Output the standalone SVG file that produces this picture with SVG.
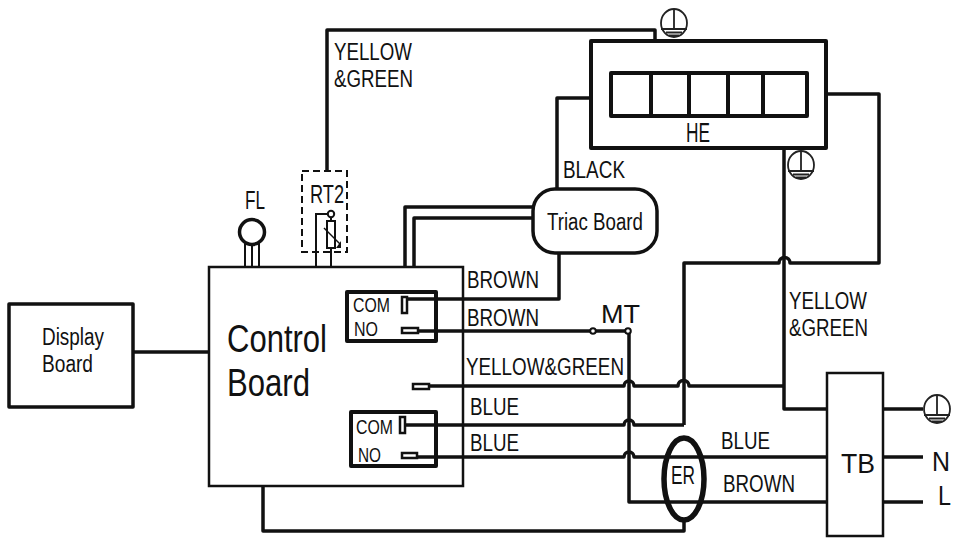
<svg xmlns="http://www.w3.org/2000/svg" width="957" height="544" viewBox="0 0 957 544">
<style>
text{font-family:"Liberation Sans",Arial,sans-serif;fill:#111;font-size:23.500px}
.b{fill:#fff;stroke:#111;stroke-width:3.5;stroke-linejoin:round}
.n{fill:none;stroke:#111;stroke-width:4;stroke-linejoin:round}
.w{fill:none;stroke:#111;stroke-width:3.500;stroke-linejoin:round}
.t{fill:none;stroke:#111;stroke-width:2}
.p{fill:#fff;stroke:#111;stroke-width:2.5}
</style>
<defs>
<g id="gnd" fill="none" stroke="#222" stroke-width="1.8">
<ellipse cx="0" cy="0" rx="13" ry="14"/>
<path d="M0-14V6M-13 6H13M-8 9.500H8M-5 12.500H5"/>
</g>
</defs>
<rect width="957" height="544" fill="#fff"/>
<g id="connectors">
<path class="w" d="M327 171V30H655V41"/>
<path class="w" d="M557 190V98H591"/>
<path class="w" d="M827 94H879V263H790a5 5 0 0 0-11 0H684V425"/>
<path class="w" d="M784 149V409H827"/>
<path class="w" d="M133 352H209"/>
<path class="w" d="M405 267V207H533"/>
<path class="w" d="M414 267V218H533"/>
<path class="w" d="M407 299H559V253"/>
<path class="w" d="M418 331H628"/>
<path class="w" d="M428 386H624a5 5 0 0 1 10 0H678a5 5 0 0 1 11 0H784"/>
<path class="w" d="M405 425H624a5 5 0 0 1 10 0H684"/>
<path class="w" d="M417 457H624a5 5 0 0 1 10 0H827"/>
<path class="w" d="M629 333V502H827"/>
<path class="w" d="M263 486V531H684V521"/>
<path class="w" d="M883 409H923M883 457H923M883 502H923"/>
<path class="t" d="M245 243V267M252 243V267M259 243V267"/>
</g>
<g id="display-board"><rect class="b" x="9" y="304" width="124" height="103"/>
<text x="42" y="345" textLength="62" lengthAdjust="spacingAndGlyphs" style="font-size:23px">Display</text><text x="42" y="372" textLength="51" lengthAdjust="spacingAndGlyphs" style="font-size:23px">Board</text></g>
<g id="fl"><circle cx="252" cy="232" r="12.500" fill="#fff" stroke="#111" stroke-width="3.500"/><text x="245" y="209" textLength="20" lengthAdjust="spacingAndGlyphs" style="font-size:25px">FL</text></g>
<g id="control-board"><rect x="209" y="267" width="254" height="219" fill="none" stroke="#111" stroke-width="2.500"/>
<text x="227" y="352" textLength="100" lengthAdjust="spacingAndGlyphs" style="font-size:38px">Control</text><text x="227" y="396" textLength="83" lengthAdjust="spacingAndGlyphs" style="font-size:38px">Board</text></g>
<g id="rt2"><rect x="302" y="171" width="45" height="81" fill="none" stroke="#111" stroke-width="2" stroke-dasharray="7 4"/>
<text x="310" y="203" textLength="34" lengthAdjust="spacingAndGlyphs" style="font-size:26px">RT2</text>
<path class="t" d="M316 267V214H328M331 217V267"/>
<circle cx="331" cy="214" r="3.200" fill="none" stroke="#111" stroke-width="2"/>
<rect x="327" y="221" width="8" height="27" fill="#fff" stroke="#111" stroke-width="2"/>
<path d="M324 228L340 244" fill="none" stroke="#111" stroke-width="1.500"/><path d="M336 248H341V241Z" fill="#111"/></g>
<g id="relay-1"><rect class="n" x="347" y="292" width="89" height="49"/>
<text x="353" y="312" textLength="37" lengthAdjust="spacingAndGlyphs" style="font-size:21px">COM</text><text x="354" y="336" textLength="24" lengthAdjust="spacingAndGlyphs" style="font-size:21px">NO</text>
<rect class="p" x="402" y="297" width="5" height="16"/><rect class="p" x="402" y="328" width="16" height="5"/></g>
<g id="relay-2"><rect class="n" x="351" y="412" width="85" height="54"/>
<text x="356" y="434" textLength="37" lengthAdjust="spacingAndGlyphs" style="font-size:21px">COM</text><text x="358" y="462" textLength="23" lengthAdjust="spacingAndGlyphs" style="font-size:21px">NO</text>
<rect class="p" x="400" y="417" width="5" height="16"/><rect class="p" x="402" y="453" width="15" height="5"/></g>
<rect id="yg-pin" class="p" x="413" y="384" width="16" height="5"/>
<g id="he"><rect class="n" x="591" y="41" width="235" height="107"/>
<rect class="n" x="611" y="73" width="196" height="43"/>
<path class="n" d="M651 73V116M689 73V116M728 73V116M763 73V116"/>
<text x="686" y="142" textLength="24" lengthAdjust="spacingAndGlyphs" style="font-size:27px">HE</text></g>
<g id="triac-board"><rect class="b" x="533" y="189" width="124" height="64" rx="22" stroke-width="3"/><text x="547" y="230" textLength="96" lengthAdjust="spacingAndGlyphs">Triac Board</text></g>
<g id="er"><ellipse cx="684" cy="479" rx="20" ry="41" fill="none" stroke="#111" stroke-width="5.500"/><text x="671" y="484" textLength="24" lengthAdjust="spacingAndGlyphs" style="font-size:25px">ER</text></g>
<g id="tb"><rect x="827" y="373" width="56" height="163" fill="#fff" stroke="#111" stroke-width="2.500"/><text x="841" y="473" textLength="34" lengthAdjust="spacingAndGlyphs" style="font-size:28px">TB</text></g>
<g id="ground-1"><use href="#gnd" x="674" y="23"/></g>
<g id="ground-2"><use href="#gnd" x="801" y="165"/></g>
<g id="ground-3"><use href="#gnd" x="937" y="409"/></g>
<g id="mt"><circle cx="593" cy="331" r="2.800" fill="#fff" stroke="#111" stroke-width="2"/><circle cx="628" cy="331" r="2.800" fill="#fff" stroke="#111" stroke-width="2"/><text x="601" y="323" textLength="39" lengthAdjust="spacingAndGlyphs" style="font-size:25px">MT</text></g>
<g id="labels">
<text x="334" y="60" textLength="78" lengthAdjust="spacingAndGlyphs">YELLOW</text><text x="334" y="87" textLength="79" lengthAdjust="spacingAndGlyphs">&amp;GREEN</text>
<text x="563" y="178" textLength="62" lengthAdjust="spacingAndGlyphs">BLACK</text>
<text x="467" y="288" textLength="72" lengthAdjust="spacingAndGlyphs">BROWN</text><text x="467" y="326" textLength="72" lengthAdjust="spacingAndGlyphs">BROWN</text>
<text x="466" y="375" textLength="158" lengthAdjust="spacingAndGlyphs">YELLOW&amp;GREEN</text>
<text x="470" y="415" textLength="49" lengthAdjust="spacingAndGlyphs">BLUE</text><text x="470" y="451" textLength="49" lengthAdjust="spacingAndGlyphs">BLUE</text>
<text x="721" y="449" textLength="49" lengthAdjust="spacingAndGlyphs">BLUE</text><text x="723" y="492" textLength="72" lengthAdjust="spacingAndGlyphs">BROWN</text>
<text x="789" y="309" textLength="78" lengthAdjust="spacingAndGlyphs">YELLOW</text><text x="789" y="336" textLength="79" lengthAdjust="spacingAndGlyphs">&amp;GREEN</text>
<text x="932" y="471" textLength="18" lengthAdjust="spacingAndGlyphs" style="font-size:27px">N</text><text x="938" y="505" textLength="13" lengthAdjust="spacingAndGlyphs" style="font-size:27px">L</text>
</g>
</svg>
